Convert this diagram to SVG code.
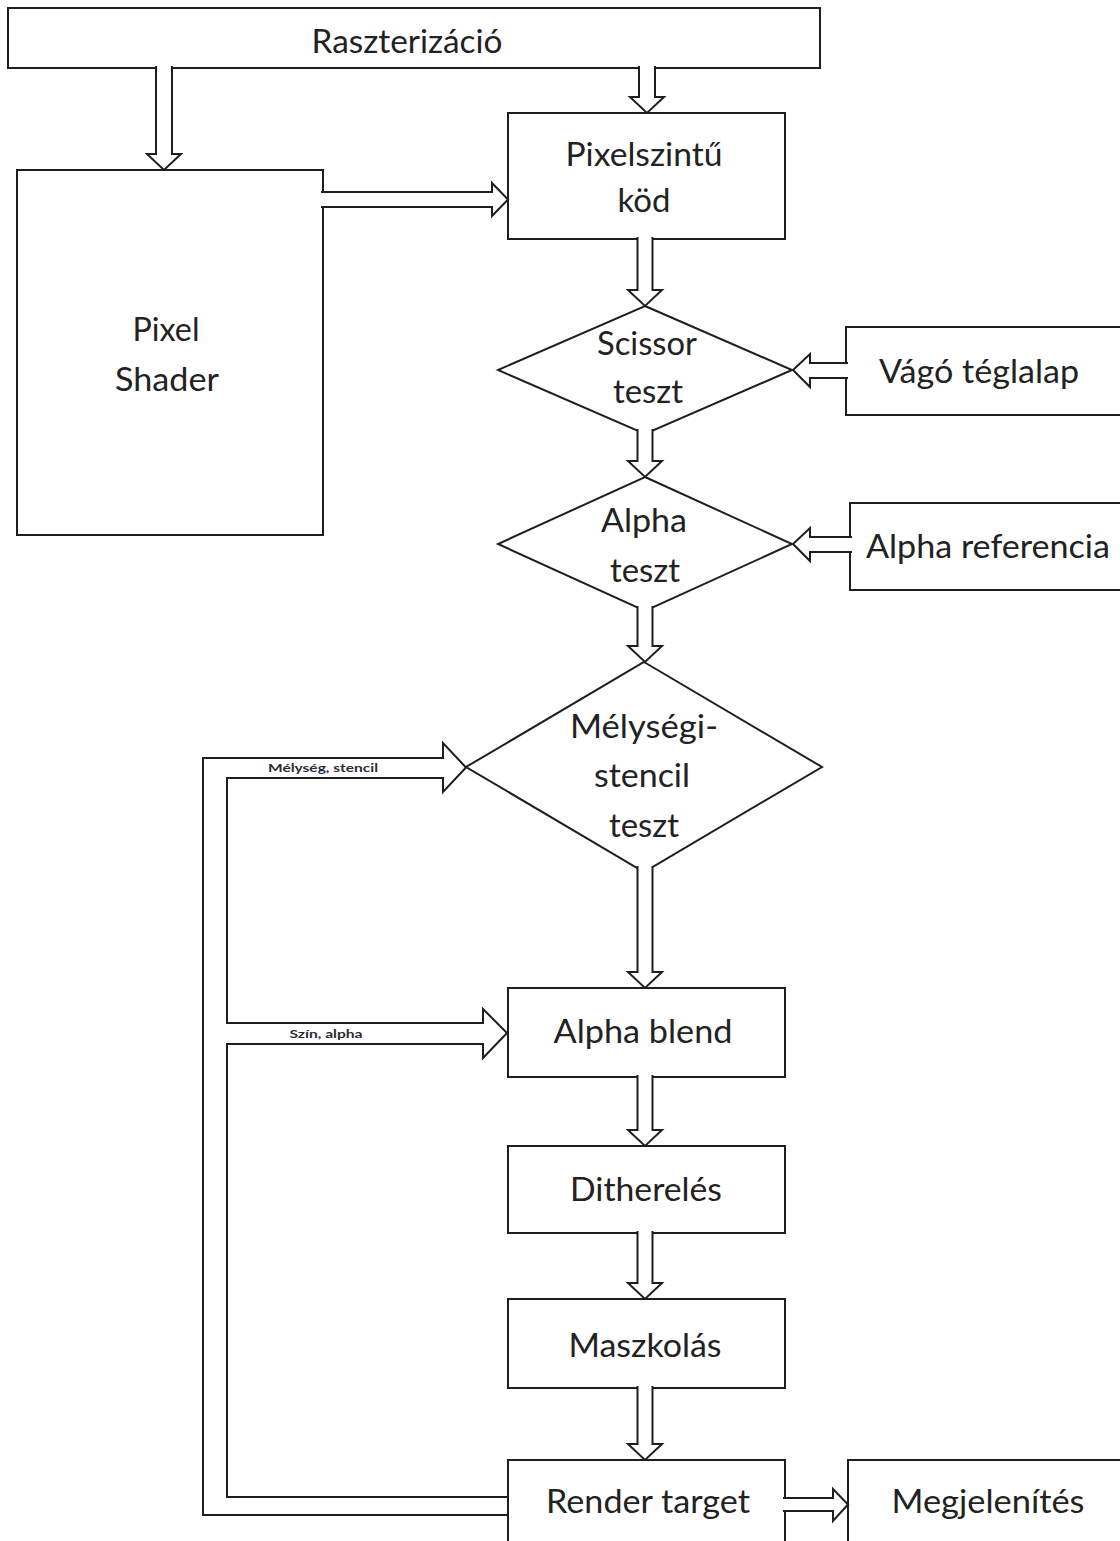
<svg xmlns="http://www.w3.org/2000/svg" width="1120" height="1541" viewBox="0 0 1120 1541">
  <style>
    .box { fill: #ffffff; stroke: #1e1e1e; stroke-width: 2; }
    .arr { fill: #ffffff; stroke: #1e1e1e; stroke-width: 2; stroke-linejoin: miter; }
    .wire { fill: none; stroke: #1e1e1e; stroke-width: 2; stroke-linejoin: miter; }
    .lbl { font-family: Lato, "Open Sans", "Liberation Sans", sans-serif; font-size: 32px; fill: #222222; text-anchor: middle; }
    .tag { font-family: Lato, "Liberation Sans", sans-serif; font-size: 11px; font-weight: bold; fill: #2a2a38; text-anchor: middle; }
  </style>
  <rect width="1120" height="1541" fill="#ffffff"/>

  <!-- nodes -->
  <g id="raszterizacio">
    <rect class="box" x="8" y="8" width="812" height="60"/>
    <text class="lbl" x="407" y="53" textLength="191" lengthAdjust="spacingAndGlyphs">Raszterizáció</text>
  </g>
  <g id="pixel-shader">
    <rect class="box" x="17" y="170" width="306" height="365"/>
    <text class="lbl" x="166" y="341" textLength="67" lengthAdjust="spacingAndGlyphs">Pixel</text>
    <text class="lbl" x="167" y="391" textLength="104" lengthAdjust="spacingAndGlyphs">Shader</text>
  </g>
  <g id="pixelszintu-kod">
    <rect class="box" x="508" y="113" width="277" height="126"/>
    <text class="lbl" x="644" y="166" textLength="157" lengthAdjust="spacingAndGlyphs">Pixelszintű</text>
    <text class="lbl" x="644" y="212" textLength="53" lengthAdjust="spacingAndGlyphs">köd</text>
  </g>
  <g id="scissor-teszt">
    <polygon class="box" points="645,306 792,370 645,434 498,370"/>
    <text class="lbl" x="647" y="355" textLength="100" lengthAdjust="spacingAndGlyphs">Scissor</text>
    <text class="lbl" x="648" y="403" textLength="70" lengthAdjust="spacingAndGlyphs">teszt</text>
  </g>
  <g id="vago-teglalap">
    <rect class="box" x="846" y="327" width="290" height="88"/>
    <text class="lbl" x="979" y="383" textLength="200" lengthAdjust="spacingAndGlyphs">Vágó téglalap</text>
  </g>
  <g id="alpha-teszt">
    <polygon class="box" points="645,477 792,544 645,611 498,544"/>
    <text class="lbl" x="644" y="532" textLength="86" lengthAdjust="spacingAndGlyphs">Alpha</text>
    <text class="lbl" x="645" y="582" textLength="70" lengthAdjust="spacingAndGlyphs">teszt</text>
  </g>
  <g id="alpha-referencia">
    <rect class="box" x="850" y="503" width="290" height="87"/>
    <text class="lbl" x="988" y="558" textLength="244" lengthAdjust="spacingAndGlyphs">Alpha referencia</text>
  </g>
  <g id="melysegi-stencil-teszt">
    <polygon class="box" points="644,662 822,767 644,872 466,767"/>
    <text class="lbl" x="644" y="738" textLength="148" lengthAdjust="spacingAndGlyphs">Mélységi-</text>
    <text class="lbl" x="642" y="787" textLength="96" lengthAdjust="spacingAndGlyphs">stencil</text>
    <text class="lbl" x="644" y="837" textLength="70" lengthAdjust="spacingAndGlyphs">teszt</text>
  </g>
  <g id="alpha-blend">
    <rect class="box" x="508" y="988" width="277" height="89"/>
    <text class="lbl" x="643" y="1043" textLength="179" lengthAdjust="spacingAndGlyphs">Alpha blend</text>
  </g>
  <g id="ditherezes">
    <rect class="box" x="508" y="1146" width="277" height="87"/>
    <text class="lbl" x="646" y="1201" textLength="152" lengthAdjust="spacingAndGlyphs">Ditherelés</text>
  </g>
  <g id="maszkolas">
    <rect class="box" x="508" y="1299" width="277" height="89"/>
    <text class="lbl" x="645" y="1357" textLength="153" lengthAdjust="spacingAndGlyphs">Maszkolás</text>
  </g>
  <g id="render-target">
    <rect class="box" x="508" y="1460" width="277" height="100"/>
    <text class="lbl" x="648" y="1513" textLength="204" lengthAdjust="spacingAndGlyphs">Render target</text>
  </g>
  <g id="megjelenites">
    <rect class="box" x="848" y="1460" width="290" height="100"/>
    <text class="lbl" x="988" y="1513" textLength="193" lengthAdjust="spacingAndGlyphs">Megjelenítés</text>
  </g>

  <!-- connectors: hollow block arrows, drawn over node borders -->
  <g id="connectors">
    <!-- Raszterizáció -> Pixel Shader -->
    <path class="arr" d="M156 66 V154 H147 L164 170 L181 154 H172 V66"/>
    <!-- Raszterizáció -> Pixelszintű köd -->
    <path class="arr" d="M639 66 V97 H630 L647 113 L664 97 H655 V66"/>
    <!-- Pixel Shader -> Pixelszintű köd -->
    <path class="arr" d="M321 192 H492 V183 L508 199.5 L492 216 V207 H321"/>
    <!-- Pixelszintű köd -> Scissor teszt -->
    <path class="arr" d="M637.5 237 V290 H628 L645 306 L662 290 H652.5 V237"/>
    <!-- Vágó téglalap -> Scissor teszt -->
    <path class="arr" d="M848 363 H810 V354 L793 370 L810 387 V378 H848"/>
    <!-- Scissor teszt -> Alpha teszt -->
    <path class="arr" d="M637.5 429 V461 H628 L645 477 L662 461 H652.5 V429"/>
    <!-- Alpha referencia -> Alpha teszt -->
    <path class="arr" d="M852 537 H810 V528 L793 544 L810 561 V552 H852"/>
    <!-- Alpha teszt -> Mélységi-stencil teszt -->
    <path class="arr" d="M637.5 606 V646 H628 L645 662 L662 646 H652.5 V606"/>
    <!-- Mélységi-stencil teszt -> Alpha blend -->
    <path class="arr" d="M637.5 866 V972 H628 L645 988 L662 972 H652.5 V866"/>
    <!-- Alpha blend -> Ditherelés -->
    <path class="arr" d="M637.5 1075 V1130 H628 L645 1146 L662 1130 H652.5 V1075"/>
    <!-- Ditherelés -> Maszkolás -->
    <path class="arr" d="M637.5 1231 V1283 H628 L645 1299 L662 1283 H652.5 V1231"/>
    <!-- Maszkolás -> Render target -->
    <path class="arr" d="M637.5 1386 V1444 H628 L645 1460 L662 1444 H652.5 V1386"/>
    <!-- Render target -> Megjelenítés -->
    <path class="arr" d="M783 1498 H833 V1489 L848 1504.5 L833 1521 V1511 H783"/>
    <!-- Render target feedback: depth/stencil and colour/alpha -->
    <path class="wire" d="M508 1515 H203 V758 H443 V743 L466 767.5 L443 792 V778 H227 V1023 H483 V1009 L507 1033 L483 1058 V1044 H227 V1497 H508"/>
    <text class="tag" x="323" y="772" textLength="110" lengthAdjust="spacingAndGlyphs">Mélység, stencil</text>
    <text class="tag" x="326" y="1038" textLength="73" lengthAdjust="spacingAndGlyphs">Szín, alpha</text>
  </g>
</svg>
